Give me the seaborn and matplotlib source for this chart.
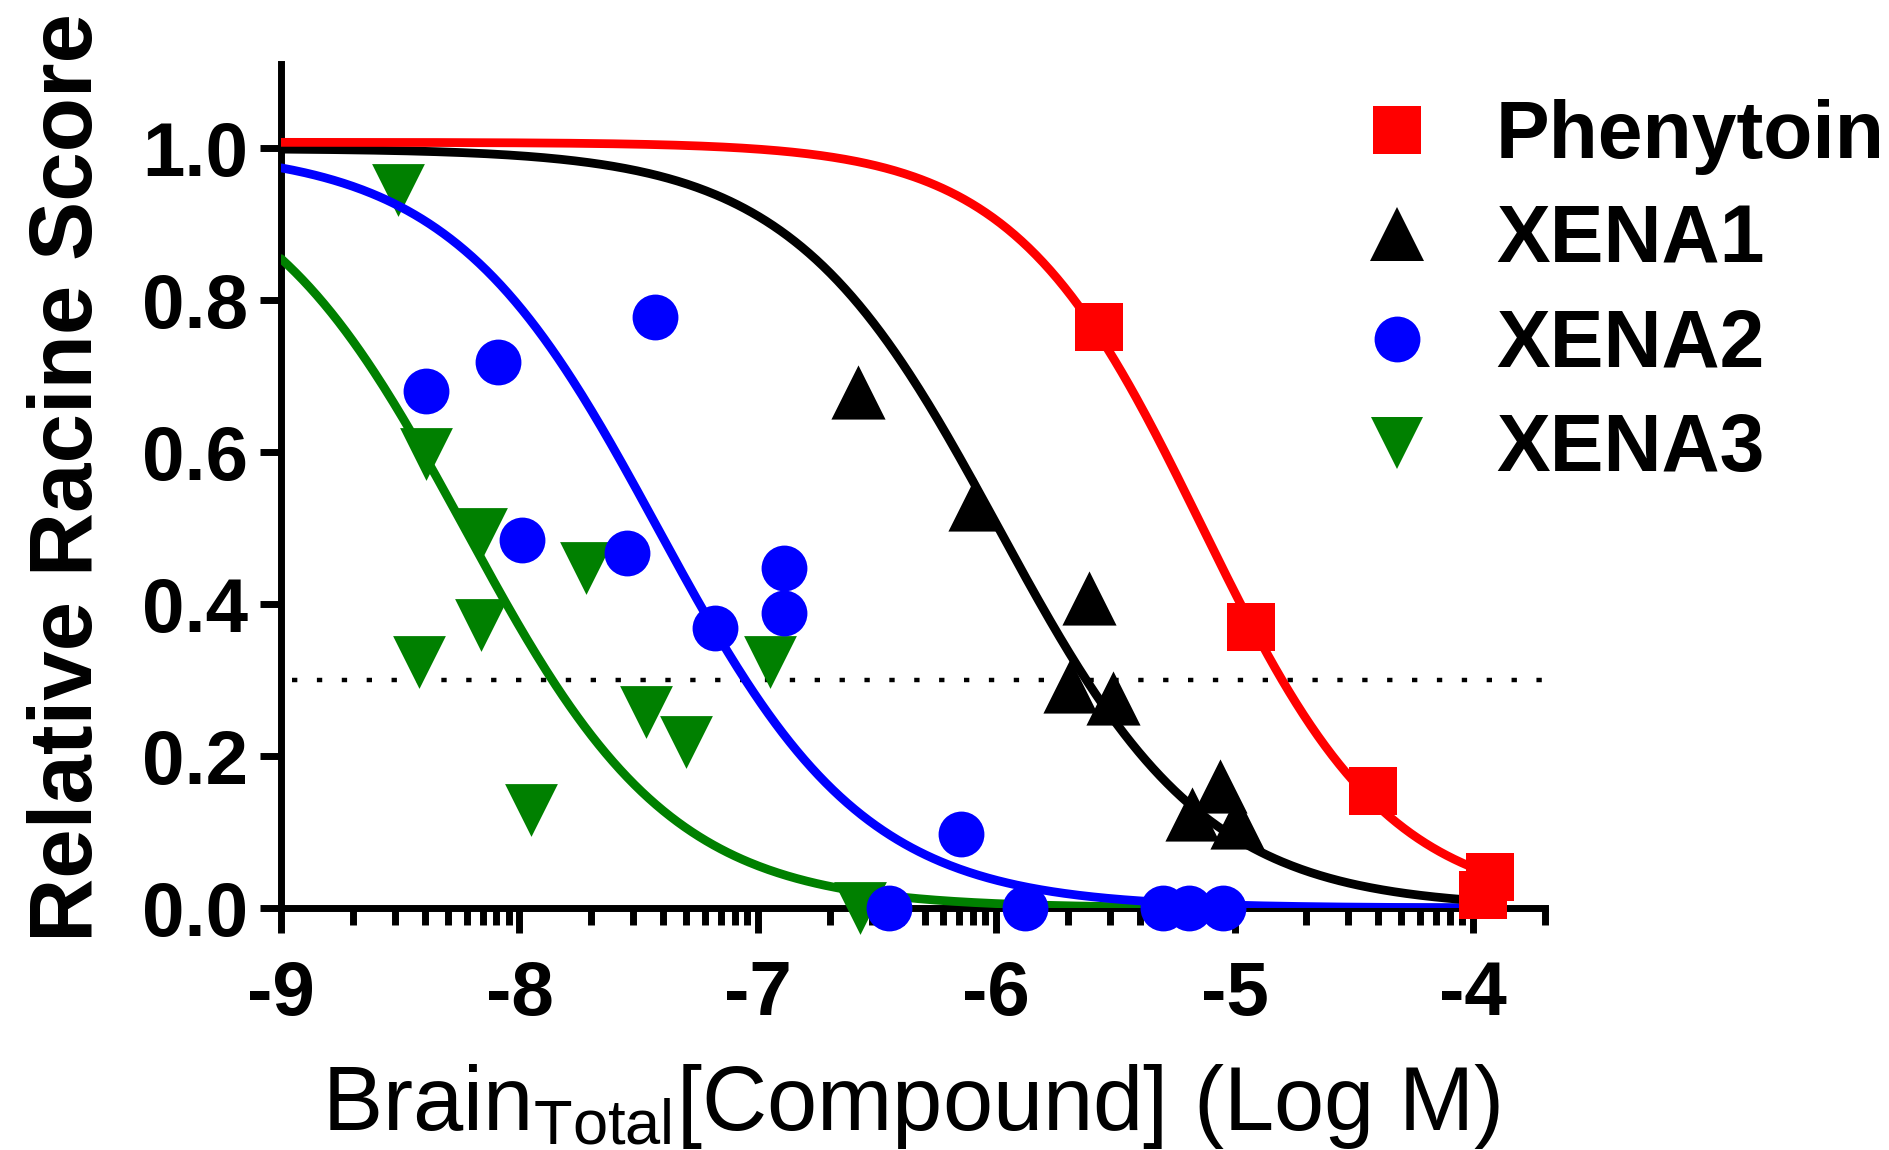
import numpy as np
import pandas as pd
import matplotlib
matplotlib.use("Agg")
import matplotlib.pyplot as plt
from matplotlib.lines import Line2D
from matplotlib.ticker import FixedLocator, FixedFormatter
import seaborn as sns

# ---- data -------------------------------------------------------------
compounds = ["Phenytoin", "XENA1", "XENA2", "XENA3"]
colors = ["#FF0000", "#000000", "#0000FF", "#008000"]
markers = ["s", "^", "o", "v"]

phenytoin_x = [-5.57, -4.93, -4.42, -3.93, -3.96]
phenytoin_y = [0.765, 0.370, 0.154, 0.041, 0.017]

xena1_x = [-6.58, -6.09, -5.61, -5.69, -5.51, -5.18, -5.06, -4.99]
xena1_y = [0.679, 0.532, 0.408, 0.292, 0.276, 0.124, 0.161, 0.113]

xena2_x = [-8.39, -8.09, -7.43, -7.99, -7.55, -6.89, -6.89, -7.18, -6.15,
           -6.45, -5.88, -5.30, -5.19, -5.05]
xena2_y = [0.680, 0.719, 0.778, 0.484, 0.467, 0.447, 0.388, 0.368, 0.097,
           0.0, 0.0, 0.0, 0.0, 0.0]

xena3_x = [-8.51, -8.39, -8.16, -7.72, -8.16, -8.42, -7.47, -7.30, -7.95,
           -6.95, -6.57]
xena3_y = [0.945, 0.598, 0.492, 0.447, 0.373, 0.324, 0.258, 0.218, 0.129,
           0.324, 0.0]

# four-parameter logistic fit for each compound
fit_top = [1.008, 1.0, 1.0, 1.0]
fit_bottom = [0.0, 0.0, 0.0, 0.0]
fit_logic50 = [-5.14, -5.99, -7.42, -8.23]
fit_hill = [1.1, 1.0, 1.0, 1.0]
fit_range = (-9.0, -4.0)

threshold = 0.3
x_ticks = [-9, -8, -7, -6, -5, -4]
x_ticklabels = ["-9", "-8", "-7", "-6", "-5", "-4"]
y_ticks = [0.0, 0.2, 0.4, 0.6, 0.8, 1.0]
y_ticklabels = ["0.0", "0.2", "0.4", "0.6", "0.8", "1.0"]

points = {
    "Phenytoin": (phenytoin_x, phenytoin_y),
    "XENA1": (xena1_x, xena1_y),
    "XENA2": (xena2_x, xena2_y),
    "XENA3": (xena3_x, xena3_y),
}
marker_sizes = {"s": 35, "^": 39, "o": 33, "v": 38}

# ---- style --------------------------------------------------------------
sns.set_theme(style="ticks")
plt.rcParams["font.family"] = ["Liberation Sans", "DejaVu Sans"]
plt.rcParams["font.weight"] = "bold"
plt.rcParams["text.color"] = "black"
plt.rcParams["axes.labelcolor"] = "black"
plt.rcParams["axes.unicode_minus"] = False
plt.rcParams["mathtext.fontset"] = "custom"
plt.rcParams["mathtext.rm"] = "Liberation Sans:weight=normal"
plt.rcParams["mathtext.it"] = "Liberation Sans:italic:weight=normal"
plt.rcParams["mathtext.bf"] = "Liberation Sans:bold"

fig = plt.figure(figsize=(18.9, 11.5), dpi=100)
ax = fig.add_axes([0.1487, 0.2104, 0.6687, 0.7339])

x_max = -4 + np.log10(2)
ax.set_xlim(-9, x_max)
ax.set_ylim(0, 1.111)

# threshold line
ax.plot([-8.955, -3.70], [threshold, threshold], color="black", lw=3.2,
        dashes=(1.2, 4.4), dash_capstyle="butt", zorder=2)

# curves and points, drawn one compound at a time
xs = np.linspace(fit_range[0], fit_range[1], 500)
order = ["XENA3", "XENA2", "XENA1", "Phenytoin"]
for k, name in enumerate(order):
    i = compounds.index(name)
    ys = fit_bottom[i] + (fit_top[i] - fit_bottom[i]) / (
        1 + 10 ** ((xs - fit_logic50[i]) * fit_hill[i]))
    curve = pd.DataFrame({"x": xs, "y": ys})
    sns.lineplot(data=curve, x="x", y="y", color=colors[i], lw=6.3,
                 estimator=None, sort=False, ax=ax, zorder=3 + 2 * k,
                 legend=False)
    px, py = points[name]
    df = pd.DataFrame({"x": px, "y": py})
    ms = marker_sizes[markers[i]]
    sns.scatterplot(data=df, x="x", y="y", marker=markers[i],
                    color=colors[i], s=ms ** 2, linewidth=0, ax=ax,
                    zorder=4 + 2 * k, clip_on=False, legend=False)

# axes
for side in ["top", "right"]:
    ax.spines[side].set_visible(False)
for side in ["left", "bottom"]:
    ax.spines[side].set_linewidth(5)
    ax.spines[side].set_color("black")

minor = []
for d in range(-9, -4):
    for m in range(2, 10):
        minor.append(d + np.log10(m))
minor.append(x_max)
ax.xaxis.set_major_locator(FixedLocator(x_ticks))
ax.xaxis.set_major_formatter(FixedFormatter(x_ticklabels))
ax.xaxis.set_minor_locator(FixedLocator(minor))
ax.yaxis.set_major_locator(FixedLocator(y_ticks))
ax.yaxis.set_major_formatter(FixedFormatter(y_ticklabels))

ax.tick_params(axis="x", which="major", direction="out", length=18, width=5,
               pad=19.5, labelsize=55, color="black", labelcolor="black")
ax.tick_params(axis="x", which="minor", direction="out", length=12.2,
               width=5, color="black")
ax.tick_params(axis="y", which="major", direction="out", length=15, width=5,
               pad=8.6, labelsize=55, color="black", labelcolor="black")
for lab in ax.get_xticklabels() + ax.get_yticklabels():
    lab.set_fontweight("bold")

ax.set_ylabel("Relative Racine Score", fontsize=64, fontweight="bold",
              color="black")
ax.yaxis.set_label_coords(-0.1345, 0.51)

ax.set_xlabel(r"Brain$_{\mathrm{Total}}$[Compound] (Log M)", fontsize=65,
              fontweight="normal", color="black")
ax.xaxis.set_label_coords(0.4985, -0.263)
ax.xaxis.label.set_va("baseline")

handles = [Line2D([], [], marker=markers[i], color=colors[i], linestyle="none",
                  markersize=marker_sizes[markers[i]], markeredgewidth=0)
           for i in range(len(compounds))]
fig.legend(handles, compounds, loc="upper left",
           bbox_to_anchor=(0.7178, 0.9135), frameon=False,
           prop={"size": 58, "weight": "bold"}, labelcolor="black",
           borderpad=0, borderaxespad=0, handlelength=1.0,
           handletextpad=0.73, labelspacing=0.35)

fig.savefig("out.png", dpi=100)
